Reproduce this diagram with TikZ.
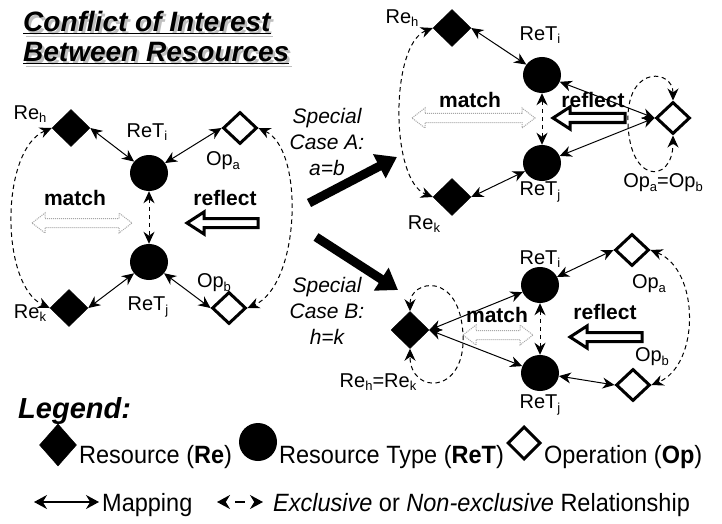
\documentclass[tikz,border=0pt]{standalone}
\usepackage{fontspec}
\setmainfont{Liberation Sans}
\newfontfamily\legfont[FakeStretch=0.94]{Liberation Sans}
\usetikzlibrary{arrows.meta,shapes.geometric}
\newcommand\sbs[1]{\raisebox{-0.35ex}{\fontsize{13}{13}\selectfont #1}}
\newcommand\shadowtext[1]{\rlap{\hspace{2.5pt}\raisebox{-2.5pt}{\color{gray!50}\underline{#1}}}\underline{#1}}
\tikzset{
 renode/.style={diamond, fill=black, draw=black, line width=0.5pt, minimum width=38pt, minimum height=37pt, inner sep=0pt},
 opnode/.style={diamond, fill=white, draw=black, line width=3pt, minimum width=34pt, minimum height=32pt, inner sep=0pt},
 retnode/.style={ellipse, fill=black, minimum width=38pt, minimum height=36pt, inner sep=0pt},
 lbl/.style={font=\fontsize{20}{22}\selectfont, inner sep=0pt},
 kw/.style={font=\fontsize{21}{24}\selectfont\bfseries, inner sep=0pt},
 spec/.style={font=\fontsize{21}{26}\selectfont\itshape, align=center, inner sep=0pt},
 title/.style={font=\fontsize{28}{30}\selectfont\bfseries\itshape, inner sep=0pt, anchor=base west},
 legtxt/.style={font=\legfont\fontsize{25}{27}\selectfont, inner sep=0pt, anchor=base west},
 mapst/.style={{Stealth[length=12pt,width=11pt]}-{Stealth[length=12pt,width=11pt]}, line width=1pt},
 relst/.style={mapst, dash pattern=on 4.5pt off 3.5pt},
 legmap/.style={{Stealth[length=13pt,width=14pt]}-{Stealth[length=13pt,width=14pt]}, line width=1.6pt},
 legrel/.style={legmap, dash pattern=on 0pt off 10pt on 10pt off 60pt},
 matchst/.style={draw=gray!70, densely dotted, line width=1pt, fill=white},
 reflst/.style={draw=black, line width=3pt, fill=white, line join=miter},
 bigarr/.style={line width=9pt, -{Triangle[length=20pt,width=26pt]}},
}
\newcommand\matcharr[3]{\draw[matchst,shift={(#1,#2)}] (-#3,0) -- (-#3+13,-10) -- (-#3+13,-4.5) -- (#3-13,-4.5) -- (#3-13,-10) -- (#3,0) -- (#3-13,10) -- (#3-13,4.5) -- (-#3+13,4.5) -- (-#3+13,10) -- cycle;}
\newcommand\reflarr[3]{\draw[reflst,shift={(#1,#2)}] (-#3,0) -- (-#3+17,-11) -- (-#3+17,-4.5) -- (#3,-4.5) -- (#3,4.5) -- (-#3+17,4.5) -- (-#3+17,11) -- cycle;}
\begin{document}
\begin{tikzpicture}[x=1pt,y=-1pt]
\useasboundingbox[fill=white] (0,0) rectangle (722,524);
% ---------- title
\node[title] (t1) at (23,32) {\shadowtext{Conflict of Interest}};
\node[title] (t2) at (23,62) {\shadowtext{Between Resources}};
% ---------- left panel
\node[renode] (LReh) at (71,128) {};
\node[retnode] (LReTi) at (149,173) {};
\node[retnode] (LReTj) at (149,262) {};
\node[renode] (LRek) at (69,308) {};
\node[opnode] (LOpa) at (240,128) {};
\node[opnode] (LOpb) at (229,308) {};
\node[lbl] (lReh) at (30,114) {Re\sbs{h}};
\node[lbl] (lReTi) at (147,132) {ReT\sbs{i}};
\node[lbl] (lOpa) at (223,161) {Op\sbs{a}};
\node[lbl] (lOpb) at (214,283) {Op\sbs{b}};
\node[lbl] (lReTj) at (148,307) {ReT\sbs{j}};
\node[lbl] (lRek) at (30,313) {Re\sbs{k}};
\node[kw] (lmatch) at (75,198) {match};
\node[kw] (lrefl) at (225,198) {reflect};
\matcharr{82}{223}{50}
\reflarr{222.5}{223}{35.5}
\draw[mapst] (LReh.east) -- (LReTi);
\draw[mapst] (LOpa.west) -- (LReTi);
\draw[mapst] (LRek.east) -- (LReTj);
\draw[mapst] (LOpb.west) -- (LReTj);
\draw[relst] (LReTi) -- (LReTj);
\draw[relst] (LReh.west) .. controls (0,150) and (0,285) .. (LRek.west);
\draw[relst] (LOpa.east) .. controls (305,150) and (300,285) .. (LOpb.east);
% ---------- special cases
\node[spec] (specA) at (327,142) {Special\\Case A:\\a=b};
\node[spec] (specB) at (327,311) {Special\\Case B:\\h=k};
\coordinate (Atail) at (309,203);
\coordinate (Ahead) at (397,157);
\coordinate (Btail) at (316,237);
\coordinate (Bhead) at (398,290);
\draw[bigarr] (Atail) -- (Ahead);
\draw[bigarr] (Btail) -- (Bhead);
% ---------- top-right panel (case A)
\node[renode] (TReh) at (452,28) {};
\node[retnode] (TReTi) at (542,75) {};
\node[retnode] (TReTj) at (542,163) {};
\node[renode] (TRek) at (452,197) {};
\node[opnode] (TOp) at (673,118) {};
\node[lbl] (tReh) at (402,18) {Re\sbs{h}};
\node[lbl] (tReTi) at (540,35) {ReT\sbs{i}};
\node[lbl] (tReTj) at (540,192) {ReT\sbs{j}};
\node[lbl] (tRek) at (424,224) {Re\sbs{k}};
\node[lbl] (tOp) at (663,183) {Op\sbs{a}=Op\sbs{b}};
\node[kw] (tmatch) at (470,100) {match};
\matcharr{473.5}{118}{61.5}
\reflarr{589}{118}{36}
\node[kw] (trefl) at (593,100) {reflect};
\draw[mapst] (TReh.east) -- (TReTi);
\draw[mapst] (TRek.east) -- (TReTj);
\draw[mapst] (TOp.west) -- (TReTi);
\draw[mapst] (TOp.west) -- (TReTj);
\draw[relst] (TReTi) -- (TReTj);
\draw[relst] (TReh.west) .. controls (390,45) and (390,180) .. (TRek.west);
\coordinate (tloop) at (628,115);
\draw[relst] (TOp.north) .. controls (673,70) and (630,65) .. (tloop) .. controls (626,185) and (673,185) .. (TOp.south);
% ---------- bottom-right panel (case B)
\node[renode] (BRe) at (410,330) {};
\node[retnode] (BReTi) at (540,285) {};
\node[retnode] (BReTj) at (540,373) {};
\node[opnode] (BOpa) at (632,250) {};
\node[opnode] (BOpb) at (633,385) {};
\node[lbl] (bRe) at (378,382) {Re\sbs{h}=Re\sbs{k}};
\node[lbl] (bReTi) at (540,259) {ReT\sbs{i}};
\node[lbl] (bReTj) at (540,405) {ReT\sbs{j}};
\node[lbl] (bOpa) at (649,284) {Op\sbs{a}};
\node[lbl] (bOpb) at (652,357) {Op\sbs{b}};
\matcharr{498}{335}{35}
\node[kw] (bmatch) at (497,315) {match};
\reflarr{606}{337}{36}
\node[kw] (brefl) at (605,312) {reflect};
\draw[mapst] (BRe.east) -- (BReTi);
\draw[mapst] (BRe.east) -- (BReTj);
\draw[mapst] (BReTi) -- (BOpa.west);
\draw[mapst] (BReTj) -- (BOpb.west);
\draw[relst] (BReTi) -- (BReTj);
\coordinate (bloop) at (463,335);
\draw[relst] (BRe.north) .. controls (410,280) and (460,270) .. (bloop) .. controls (466,395) and (410,395) .. (BRe.south);
\draw[relst] (BOpa.east) .. controls (700,270) and (700,365) .. (BOpb.east);
% ---------- legend
\node[font=\fontsize{29}{31}\selectfont\bfseries\itshape, inner sep=0pt, anchor=base west] (leg) at (18,418) {Legend:};
\node[renode, minimum width=37pt, minimum height=42pt] (legRe) at (58,445) {};
\node[legtxt] (legReT) at (79,463) {Resource (\textbf{Re})};
\node[retnode, minimum width=38pt, minimum height=38pt] (legReTs) at (258,442) {};
\node[legtxt] (legReTt) at (279,463) {Resource Type (\textbf{ReT})};
\node[opnode, minimum width=33pt, minimum height=33pt] (legOp) at (524,443) {};
\node[legtxt] (legOpt) at (544,463) {Operation (\textbf{Op})};
\coordinate (m1) at (34,502);
\coordinate (m2) at (99,502);
\draw[legmap] (m1) -- (m2);
\node[legtxt] (legMap) at (102,511) {Mapping};
\coordinate (d1) at (217,502);
\coordinate (d2) at (263,502);
\draw[legrel] (d1) -- (d2);
\node[legtxt] (legRel) at (273,511) {\textit{Exclusive} or \textit{Non-exclusive} Relationship};
\end{tikzpicture}
\end{document}
